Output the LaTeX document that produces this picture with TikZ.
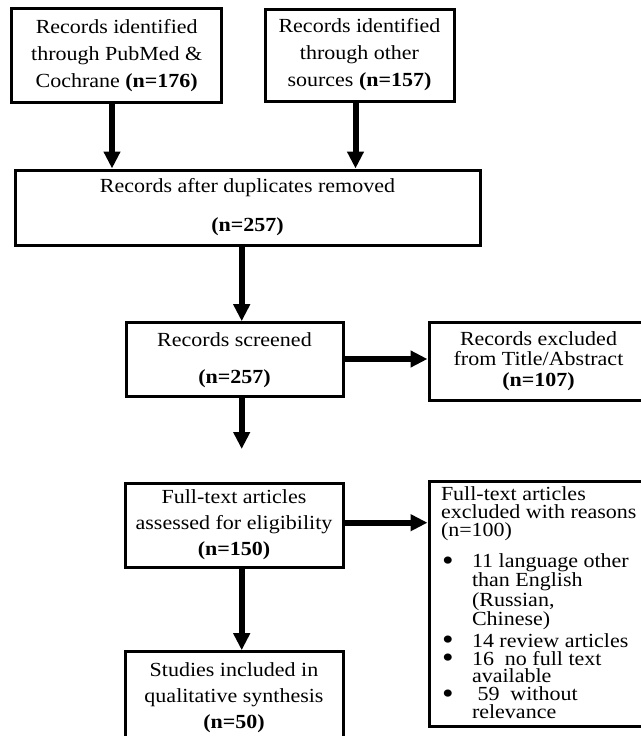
\documentclass[tikz,border=0pt]{standalone}
\usepackage{fontspec}
\setmainfont{Liberation Serif}[FakeStretch=1.1]
\usetikzlibrary{arrows.meta}
\newcommand{\bigbul}{\makebox[31pt][l]{\hspace*{1pt}\raisebox{-2.5pt}{\scalebox{1.5}{\textbullet}}}}
\begin{document}
\begin{tikzpicture}[x=1pt,y=-1pt,
  box/.style={draw, line width=3pt, inner sep=0pt, align=center, font=\fontsize{20}{27}\selectfont},
  arr/.style={line width=6pt, -{Triangle[length=17pt,width=16pt]}}]
\useasboundingbox (0,0) rectangle (640,736);
\fill[white] (0,0) rectangle (640,736);
% boxes
\node[box, minimum width=210pt, minimum height=94pt] (box1) at (116.7,55.6)
  {Records identified\\through PubMed \&\\Cochrane \textbf{(n=176)}};
\node[box, minimum width=189pt, minimum height=92pt] (box2) at (359.5,55)
  {Records identified\\through other\\sources \textbf{(n=157)}};
\node[box, minimum width=465pt, minimum height=75pt, font=\fontsize{20}{39}\selectfont] (dup) at (247.5,207.5)
  {Records after duplicates removed\\\textbf{(n=257)}};
\node[box, minimum width=217pt, minimum height=74pt, font=\fontsize{20}{37}\selectfont] (screened) at (234.5,359.7)
  {Records screened\\\textbf{(n=257)}};
\node[box, minimum width=219pt, minimum height=78pt, font=\fontsize{20}{20.5}\selectfont] (excl1) at (538.5,361)
  {Records excluded\\from Title/Abstract\\\textbf{(n=107)}};
\node[box, minimum width=218pt, minimum height=84pt, font=\fontsize{20}{26}\selectfont] (fulltext) at (234,525)
  {Full-text articles\\assessed for eligibility\\\textbf{(n=150)}};
\node[box, minimum width=218pt, minimum height=92pt, font=\fontsize{20}{25.6}\selectfont] (studies) at (234,697.7)
  {Studies included in\\qualitative synthesis\\\textbf{(n=50)}};
\node[box, minimum width=234pt, minimum height=245pt, align=left] (excl2) at (546,604.2)
  {\begin{minipage}[c][245pt][t]{210pt}\raggedright
   \fontsize{20}{17.8}\selectfont
   \vspace*{5.3pt}Full-text articles\\
   excluded with reasons\\
   (n=100)\\[12pt]
   \bigbul 11 language other\\
   \hspace*{31pt}than English\\
   \hspace*{31pt}(Russian,\\
   \hspace*{31pt}Chinese)\\[3pt]
   \bigbul 14 review articles\\
   \bigbul 16\ \ no full text\\
   \hspace*{31pt}available\\
   \bigbul\ 59\ \ without\\
   \hspace*{31pt}relevance
   \end{minipage}};
% connector positions
\coordinate (a1) at (112,0);
\coordinate (a2) at (355.5,0);
\coordinate (av) at (241.7,0);
\coordinate (h1) at (0,359);
\coordinate (h2) at (0,522.7);
\coordinate (freeend) at (241.7,449);
% connectors
\draw[arr] (box1.south -| a1) -- (dup.north -| a1);
\draw[arr] (box2.south -| a2) -- (dup.north -| a2);
\draw[arr] (dup.south -| av) -- (screened.north -| av);
\draw[arr] (screened.east |- h1) -- (excl1.west |- h1);
\draw[arr] (screened.south -| av) -- (freeend);
\draw[arr] (fulltext.east |- h2) -- (excl2.west |- h2);
\draw[arr] (fulltext.south -| av) -- (studies.north -| av);
\end{tikzpicture}
\end{document}
